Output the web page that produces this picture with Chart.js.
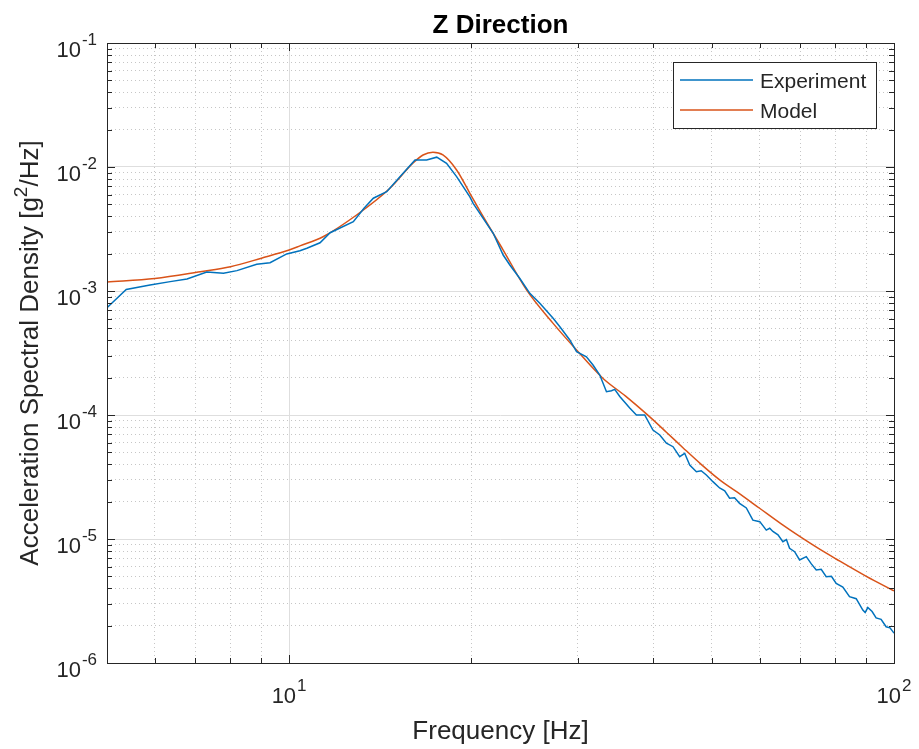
<!DOCTYPE html>
<html>
<head>
<meta charset="utf-8">
<script src="https://cdn.jsdelivr.net/npm/chart.js@4.4.1/dist/chart.umd.min.js"></script>
<style>
  html, body { margin: 0; padding: 0; background: #fff; }
  canvas { display: block; }
</style>
</head>
<body>
<canvas id="psdChart" width="919" height="749"></canvas>
<script>
const expFreq = [5.0, 5.38, 5.89, 6.36, 6.78, 7.31, 7.79, 8.20, 8.84, 9.30, 9.91, 10.42, 10.70, 11.25, 11.69,
  12.77, 13.3, 13.78, 14.50, 15.25, 16.15, 16.88, 17.54, 18.21, 18.92, 19.90, 20.15, 21.75, 22.59, 23.17,
  24.07, 25.0, 25.97, 27.32, 28.03, 29.11, 29.87, 31.01, 31.80, 32.63, 33.47, 34.12, 34.54, 35.21, 36.57,
  37.51, 38.71, 39.95, 41.0, 42.05, 43.12, 44.23, 45.08, 45.95, 47.13, 48.0, 48.95, 50.19, 51.49, 52.5,
  53.48, 54.5, 55.55, 57.0, 58.44, 60.0, 61.50, 62.3, 63.07, 64.3, 65.51, 66.4, 67.20, 68.5, 69.81,
  71.61, 73.0, 74.38, 75.8, 77.26, 78.8, 80.25, 82.3, 84.42, 86.6, 88.81, 89.6, 90.51, 92.0, 93.42,
  95.2, 97.05, 98.5, 100];
const expPsd = [7.33e-4, 1.03e-3, 1.12e-3, 1.19e-3, 1.25e-3, 1.42e-3, 1.39e-3, 1.46e-3, 1.64e-3, 1.69e-3, 1.99e-3, 2.11e-3, 2.21e-3, 2.45e-3, 2.95e-3,
  3.62e-3, 4.65e-3, 5.60e-3, 6.33e-3, 8.36e-3, 1.14e-2, 1.14e-2, 1.20e-2, 1.07e-2, 8.36e-3, 5.75e-3, 5.09e-3, 2.92e-3, 1.95e-3, 1.62e-3,
  1.26e-3, 9.57e-4, 7.96e-4, 6.03e-4, 5.15e-4, 4.03e-4, 3.24e-4, 2.95e-4, 2.53e-4, 2.10e-4, 1.54e-4, 1.57e-4, 1.61e-4, 1.41e-4, 1.14e-4,
  1.0e-4, 1.0e-4, 7.57e-5, 6.90e-5, 5.92e-5, 5.55e-5, 4.61e-5, 4.91e-5, 3.95e-5, 3.49e-5, 3.55e-5, 3.28e-5, 2.90e-5, 2.58e-5, 2.45e-5,
  2.13e-5, 2.15e-5, 1.94e-5, 1.78e-5, 1.42e-5, 1.38e-5, 1.18e-5, 1.22e-5, 1.15e-5, 1.08e-5, 9.51e-6, 9.9e-6, 8.41e-6, 7.9e-6, 6.77e-6,
  7.20e-6, 6.3e-6, 5.62e-6, 5.7e-6, 4.97e-6, 5.0e-6, 4.39e-6, 4.1e-6, 3.43e-6, 3.3e-6, 2.67e-6, 2.55e-6, 2.80e-6, 2.6e-6, 2.31e-6,
  2.25e-6, 1.96e-6, 1.92e-6, 1.74e-6];

// fitted model
const modelFreq = [5.0, 6.0, 7.13, 8.0, 9.0, 10.0, 10.42, 11.38, 12.93, 14.68, 16.03, 16.65, 17.29, 17.96, 18.92,
  19.90, 20.94, 22.59, 24.69, 27.32, 29.87, 33.04, 36.0, 38.97, 42.0, 44.78, 48.0, 51.5, 55.0, 59.95,
  65.0, 70.24, 75.0, 80.25, 90.0, 100];
const modelPsd = [1.18e-3, 1.26e-3, 1.43e-3, 1.57e-3, 1.84e-3, 2.14e-3, 2.31e-3, 2.74e-3, 4.10e-3, 6.73e-3, 1.076e-2, 1.25e-2, 1.315e-2, 1.25e-2, 9.46e-3,
  6.14e-3, 3.97e-3, 2.14e-3, 1.02e-3, 5.48e-4, 3.34e-4, 1.97e-4, 1.42e-4, 1.02e-4, 7.3e-5, 5.45e-5, 4.0e-5, 3.0e-5, 2.4e-5, 1.77e-5,
  1.33e-5, 1.03e-5, 8.4e-6, 6.9e-6, 5.0e-6, 3.82e-6];

// tick labels are 10^n
const xTickExps = [1, 2];
const yTickExps = [-6, -5, -4, -3, -2, -1];

const AXIS_COLOR = '#262626';
const FONT = '"Liberation Sans", Arial, Helvetica, sans-serif';

const isMajor = v => Math.abs(Math.log10(v) - Math.round(Math.log10(v))) < 1e-9;

// 1..9 x 10^n ticks inside [min, max]
function decadeTicks(min, max) {
  const out = [];
  for (let e = Math.floor(Math.log10(min)); e <= Math.ceil(Math.log10(max)); e++) {
    for (let m = 1; m < 10; m++) {
      const v = m * Math.pow(10, e);
      if (v >= min * 0.999999 && v <= max * 1.000001) out.push({ value: v });
    }
  }
  return out;
}

// draw "10" with a superscript exponent; align = 'right' | 'center'
function drawPow(ctx, exp, x, baseY, supY, align) {
  ctx.font = '22px ' + FONT;
  const wb = ctx.measureText('10').width;
  ctx.font = '17px ' + FONT;
  const we = ctx.measureText(exp).width;
  const total = wb + 1 + we;
  const x0 = align === 'right' ? x - total : x - total / 2;
  ctx.textAlign = 'left';
  ctx.textBaseline = 'alphabetic';
  ctx.font = '22px ' + FONT;
  ctx.fillText('10', x0, baseY);
  ctx.font = '17px ' + FONT;
  ctx.fillText(exp, x0 + wb + 1, supY);
}

const matlabAxes = {
  id: 'matlabAxes',
  afterDraw(chart) {
    const { ctx, chartArea: a, scales } = chart;
    const xs = scales.x, ys = scales.y;
    ctx.save();
    ctx.strokeStyle = AXIS_COLOR;
    ctx.fillStyle = AXIS_COLOR;
    ctx.lineWidth = 1;

    // inward ticks on all four sides
    ctx.beginPath();
    xs.ticks.forEach(t => {
      const px = Math.round(xs.getPixelForValue(t.value)) + 0.5;
      const len = isMajor(t.value) ? 8 : 5;
      ctx.moveTo(px, a.bottom); ctx.lineTo(px, a.bottom - len);
      ctx.moveTo(px, a.top); ctx.lineTo(px, a.top + len);
    });
    ys.ticks.forEach(t => {
      const py = Math.round(ys.getPixelForValue(t.value)) + 0.5;
      const len = isMajor(t.value) ? 8 : 5;
      ctx.moveTo(a.left, py); ctx.lineTo(a.left + len, py);
      ctx.moveTo(a.right, py); ctx.lineTo(a.right - len, py);
    });
    ctx.stroke();
    ctx.strokeRect(Math.round(a.left) + 0.5, Math.round(a.top) + 0.5,
      Math.round(a.right - a.left), Math.round(a.bottom - a.top));

    // tick labels
    yTickExps.forEach(e => {
      const py = ys.getPixelForValue(Math.pow(10, e));
      drawPow(ctx, String(e), a.left - 10, py + 14, py + 2, 'right');
    });
    xTickExps.forEach(e => {
      const px = xs.getPixelForValue(Math.pow(10, e));
      drawPow(ctx, String(e), px, a.bottom + 40, a.bottom + 28, 'center');
    });

    // x axis title
    ctx.font = '26px ' + FONT;
    ctx.textAlign = 'center';
    ctx.textBaseline = 'alphabetic';
    ctx.fillText('Frequency [Hz]', (a.left + a.right) / 2, 739);

    // y axis title, rotated, with g^2
    const p1 = 'Acceleration Spectral Density [g', sup = '2', p2 = '/Hz]';
    ctx.font = '26px ' + FONT;
    const w1 = ctx.measureText(p1).width, w2 = ctx.measureText(p2).width;
    ctx.font = '19px ' + FONT;
    const ws = ctx.measureText(sup).width;
    const tw = w1 + ws + w2;
    ctx.save();
    ctx.translate(38, (a.top + a.bottom) / 2);
    ctx.rotate(-Math.PI / 2);
    ctx.textAlign = 'left';
    ctx.font = '26px ' + FONT;
    ctx.fillText(p1, -tw / 2, 0);
    ctx.fillText(p2, -tw / 2 + w1 + ws, 0);
    ctx.font = '19px ' + FONT;
    ctx.fillText(sup, -tw / 2 + w1, -11);
    ctx.restore();

    // title
    ctx.fillStyle = '#000';
    ctx.font = 'bold 26px ' + FONT;
    ctx.textAlign = 'center';
    ctx.fillText('Z Direction', (a.left + a.right) / 2, 33);

    // legend box
    const lx = 673, ly = 62, lw = 203, lh = 66;
    ctx.fillStyle = '#fff';
    ctx.fillRect(lx, ly, lw, lh);
    ctx.strokeStyle = AXIS_COLOR;
    ctx.lineWidth = 1;
    ctx.strokeRect(lx + 0.5, ly + 0.5, lw, lh);
    chart.data.datasets.forEach((ds, i) => {
      const yy = 80 + i * 30;
      ctx.strokeStyle = ds.borderColor;
      ctx.lineWidth = 1.5;
      ctx.beginPath();
      ctx.moveTo(680, yy); ctx.lineTo(753, yy);
      ctx.stroke();
      ctx.fillStyle = AXIS_COLOR;
      ctx.font = '21px ' + FONT;
      ctx.textAlign = 'left';
      ctx.fillText(ds.label, 760, yy + 8);
    });
    ctx.restore();
  }
};

const toPoints = (xs, ys) => xs.map((f, i) => ({ x: f, y: ys[i] }));

const gridOpts = {
  drawTicks: false,
  lineWidth: 1,
  color: c => (c.tick && isMajor(c.tick.value)) ? '#dedede' : '#c6c6c6'
};
const borderOpts = {
  display: false,
  dash: c => (c.tick && !isMajor(c.tick.value)) ? [1, 3] : []
};

new Chart(document.getElementById('psdChart').getContext('2d'), {
  type: 'line',
  data: {
    datasets: [{
      label: 'Experiment',
      data: toPoints(expFreq, expPsd),
      borderColor: '#0072BD',
      borderWidth: 1.5,
      pointRadius: 0,
      tension: 0
    }, {
      label: 'Model',
      data: toPoints(modelFreq, modelPsd),
      borderColor: '#D95319',
      borderWidth: 1.5,
      pointRadius: 0,
      cubicInterpolationMode: 'monotone'
    }]
  },
  options: {
    responsive: false,
    animation: false,
    layout: { padding: { left: 107, top: 43, right: 25, bottom: 86 } },
    plugins: {
      legend: { display: false },
      title: { display: false },
      tooltip: { enabled: false }
    },
    scales: {
      x: {
        type: 'logarithmic',
        min: 5,
        max: 100,
        afterBuildTicks: s => { s.ticks = decadeTicks(5, 100); },
        afterFit: s => { s.height = 0; },
        ticks: { display: false },
        grid: gridOpts,
        border: borderOpts
      },
      y: {
        type: 'logarithmic',
        min: 1e-6,
        max: 1e-1,
        afterBuildTicks: s => { s.ticks = decadeTicks(1e-6, 1e-1); },
        afterFit: s => { s.width = 0; },
        ticks: { display: false },
        grid: gridOpts,
        border: borderOpts
      }
    }
  },
  plugins: [matlabAxes]
});
</script>
</body>
</html>
